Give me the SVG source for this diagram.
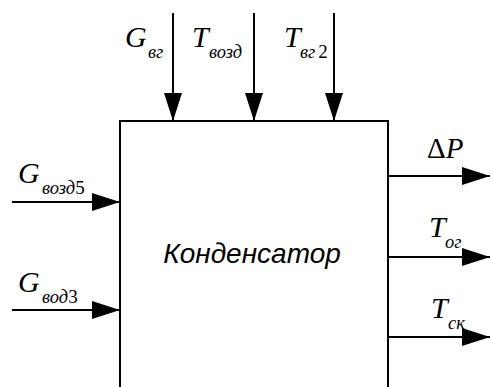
<svg xmlns="http://www.w3.org/2000/svg" width="491" height="387" viewBox="0 0 491 387">
<style>
.ln{stroke:#000;stroke-width:2;fill:none}
text.f{font-family:'Liberation Serif',serif;fill:#000}
text.m{font-style:italic;font-size:30px}
text.s{font-style:italic;font-size:18.5px}
tspan.d{font-style:normal;font-size:19px}
text.u{font-style:normal;font-size:29px}
tspan.m{font-style:italic}
text.t{font-family:'Liberation Sans',Arial,sans-serif;font-style:italic;font-size:28px;fill:#000}
</style>
<defs>
<marker id="ah" markerUnits="userSpaceOnUse" markerWidth="28" markerHeight="18" refX="28" refY="9" orient="auto">
<path d="M0,0 L28,9 L0,18 z" fill="#000"/>
</marker>
</defs>
<rect width="491" height="387" fill="#fff"/>
<g id="condenser">
<path class="ln" d="M120,400 V121 H388 V400"/>
<text class="t" x="252" y="263" text-anchor="middle">Конденсатор</text>
</g>
<g id="connectors">
<line class="ln" x1="173" y1="13" x2="173" y2="121" marker-end="url(#ah)"/>
<line class="ln" x1="254" y1="13" x2="254" y2="121" marker-end="url(#ah)"/>
<line class="ln" x1="334" y1="13" x2="334" y2="121" marker-end="url(#ah)"/>
<line class="ln" x1="12" y1="202" x2="120" y2="202" marker-end="url(#ah)"/>
<line class="ln" x1="12" y1="310" x2="120" y2="310" marker-end="url(#ah)"/>
<line class="ln" x1="388" y1="176" x2="490" y2="176" marker-end="url(#ah)"/>
<line class="ln" x1="388" y1="257" x2="490" y2="257" marker-end="url(#ah)"/>
<line class="ln" x1="388" y1="337" x2="490" y2="337" marker-end="url(#ah)"/>
</g>
<g id="labels">
<text class="f m" x="125" y="47">G</text><text class="f s" x="148" y="58">вг</text>
<text class="f m" x="192" y="47">T</text><text class="f s" x="209" y="58">возд</text>
<text class="f m" x="284" y="47">T</text><text class="f s" x="300" y="58">вг<tspan class="d" dx="3">2</tspan></text>
<text class="f m" x="18" y="183">G</text><text class="f s" x="42" y="194">возд<tspan class="d">5</tspan></text>
<text class="f m" x="18" y="292">G</text><text class="f s" x="42" y="303">вод<tspan class="d">3</tspan></text>
<text class="f u" x="427" y="158">Δ<tspan class="m">P</tspan></text>
<text class="f m" x="429" y="237">T</text><text class="f s" x="445" y="248">ог</text>
<text class="f m" x="431" y="318">T</text><text class="f s" x="448" y="329">ск</text>
</g>
</svg>
